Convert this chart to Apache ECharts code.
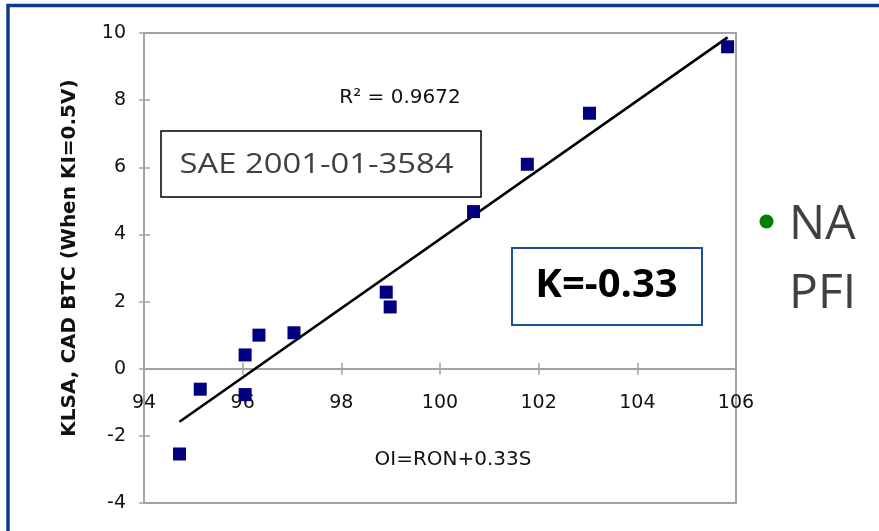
<!DOCTYPE html>
<html>
<head>
<meta charset="utf-8">
<script src="https://cdn.jsdelivr.net/npm/echarts@6/dist/echarts.min.js"></script>
<style>
  html, body { margin: 0; padding: 0; background: #ffffff; }
  #chart { width: 879px; height: 531px; }
</style>
</head>
<body>
<div id="chart"></div>
<script>
// Octane index (OI = RON + 0.33S) against knock-limited spark advance
const octaneIndex = [94.72, 95.14, 96.05, 96.05, 96.33, 97.04, 98.91, 98.99, 100.68, 101.77, 103.03, 105.83];
const klsaAdvance = [-2.54, -0.61, 0.41, -0.77, 1.00, 1.07, 2.28, 1.84, 4.68, 6.09, 7.61, 9.59];

// Linear trend line end points
const fitX = [94.72, 105.83];
const fitY = [-1.58, 9.87];

// Axis tick values
const xTicks = [94, 96, 98, 100, 102, 104, 106];
const yTicks = [-4, -2, 0, 2, 4, 6, 8, 10];

const rSquaredText = 'R² = 0.9672';
const xTitle = 'OI=RON+0.33S';
const yTitle = 'KLSA, CAD BTC (When KI=0.5V)';
const sourceText = 'SAE 2001-01-3584';
const kText = 'K=-0.33';
const regionLines = ['NA', 'PFI'];

const axisGray = '#a3a3a3';
const chartFont = '"DejaVu Sans", "Liberation Sans", Arial, sans-serif';
const slideFont = '"Open Sans", "Noto Sans", sans-serif';

const points = octaneIndex.map((x, i) => [x, klsaAdvance[i]]);
const fitLine = fitX.map((x, i) => [x, fitY[i]]);

const xRange = { min: xTicks[0], max: xTicks[xTicks.length - 1], interval: xTicks[1] - xTicks[0] };
const yRange = { min: yTicks[0], max: yTicks[yTicks.length - 1], interval: yTicks[1] - yTicks[0] };

// plot area
const gridBox = { left: 144, right: 143, top: 33, bottom: 28 };
const gridHeight = 531 - gridBox.top - gridBox.bottom;
// lift the horizontal axis from the bottom edge up to y = 0
const zeroLift = -gridHeight * (0 - yRange.min) / (yRange.max - yRange.min);

const chart = echarts.init(document.getElementById('chart'), null, { renderer: 'canvas' });

const baseX = {
  type: 'value',
  position: 'bottom',
  offset: zeroLift,
  min: xRange.min, max: xRange.max, interval: xRange.interval,
  splitLine: { show: false },
  axisLine: { show: true, onZero: false, lineStyle: { color: axisGray, width: 2 } },
  axisTick: { show: true, length: 6, lineStyle: { color: axisGray, width: 1.5 } }
};
const baseY = {
  type: 'value',
  min: yRange.min, max: yRange.max, interval: yRange.interval,
  splitLine: { show: false },
  axisLine: { show: true, onZero: false, lineStyle: { color: axisGray, width: 2 } },
  axisTick: { show: true, lineStyle: { color: axisGray, width: 1.5 } }
};

chart.setOption({
  animation: false,
  backgroundColor: '#ffffff',
  grid: Object.assign({}, gridBox, {
    show: true, borderColor: axisGray, borderWidth: 2,
    containLabel: false, outerBoundsMode: 'none'
  }),
  xAxis: [
    Object.assign({}, baseX, {
      axisLabel: { show: true, margin: 25, color: '#111', fontFamily: chartFont, fontSize: 19 }
    }),
    // upper half of the crossing tick marks
    Object.assign({}, baseX, {
      axisTick: { show: true, inside: true, length: 6, lineStyle: { color: axisGray, width: 1.5 } },
      axisLabel: { show: false }
    })
  ],
  yAxis: [
    Object.assign({}, baseY, {
      position: 'left',
      axisTick: { show: true, length: 5, lineStyle: { color: axisGray, width: 1.5 } },
      axisLabel: { show: true, margin: 18, color: '#111', fontFamily: chartFont, fontSize: 19 }
    }),
    // inner half of the crossing tick marks
    Object.assign({}, baseY, {
      position: 'left',
      axisTick: { show: true, inside: true, length: 6, lineStyle: { color: axisGray, width: 1.5 } },
      axisLabel: { show: false }
    })
  ],
  series: [
    {
      name: 'Trend',
      type: 'line',
      xAxisIndex: 0, yAxisIndex: 0,
      data: fitLine,
      symbol: 'none',
      lineStyle: { color: '#000000', width: 2.6 },
      z: 3
    },
    {
      name: 'Fuels',
      type: 'scatter',
      xAxisIndex: 0, yAxisIndex: 0,
      data: points,
      symbol: 'rect',
      symbolSize: 13,
      itemStyle: { color: '#000080', opacity: 1 },
      z: 4
    }
  ],
  graphic: [
    // slide frame
    {
      type: 'rect', silent: true, z: 10,
      shape: { x: 8, y: 5.5, width: 900, height: 600 },
      style: { fill: 'none', stroke: '#0B3B8F', lineWidth: 3.5 }
    },
    {
      type: 'text', silent: true, z: 10, x: 70, y: 258, rotation: Math.PI / 2,
      style: { text: yTitle, font: 'bold 20px ' + chartFont, fill: '#111',
               align: 'center', verticalAlign: 'middle', textAlign: 'center', textVerticalAlign: 'middle' }
    },
    {
      type: 'text', silent: true, z: 10, x: 400, y: 98,
      style: { text: rSquaredText, font: '20px ' + chartFont, fill: '#111',
               align: 'center', verticalAlign: 'middle', textAlign: 'center', textVerticalAlign: 'middle' }
    },
    {
      type: 'text', silent: true, z: 10, x: 453, y: 460,
      style: { text: xTitle, font: '20px ' + chartFont, fill: '#111',
               align: 'center', verticalAlign: 'middle', textAlign: 'center', textVerticalAlign: 'middle' }
    },
    // source reference box
    {
      type: 'rect', silent: true, z: 10,
      shape: { x: 161, y: 131, width: 320, height: 66 },
      style: { fill: '#ffffff', stroke: '#000000', lineWidth: 1.5 }
    },
    {
      type: 'text', silent: true, z: 11, x: 316.5, y: 165, scaleX: 1.17,
      style: { text: sourceText, font: '28px ' + slideFont, fill: '#404040',
               align: 'center', verticalAlign: 'middle', textAlign: 'center', textVerticalAlign: 'middle' }
    },
    // K value box
    {
      type: 'rect', silent: true, z: 10,
      shape: { x: 512, y: 248, width: 190, height: 77 },
      style: { fill: '#ffffff', stroke: '#1F4E9A', lineWidth: 2 }
    },
    {
      type: 'text', silent: true, z: 11, x: 606.5, y: 286,
      style: { text: kText, font: 'bold 40px ' + slideFont, fill: '#000000',
               align: 'center', verticalAlign: 'middle', textAlign: 'center', textVerticalAlign: 'middle' }
    },
    // bullet item
    {
      type: 'circle', silent: true, z: 10,
      shape: { cx: 766.5, cy: 221.5, r: 7 },
      style: { fill: '#008000' }
    },
    {
      type: 'text', silent: true, z: 10, x: 789, y: 225,
      style: { text: regionLines[0], font: '48px ' + slideFont, fill: '#404040',
               align: 'left', verticalAlign: 'middle', textAlign: 'left', textVerticalAlign: 'middle' }
    },
    {
      type: 'text', silent: true, z: 10, x: 789, y: 294,
      style: { text: regionLines[1], font: '48px ' + slideFont, fill: '#404040',
               align: 'left', verticalAlign: 'middle', textAlign: 'left', textVerticalAlign: 'middle' }
    }
  ]
});
</script>
</body>
</html>
